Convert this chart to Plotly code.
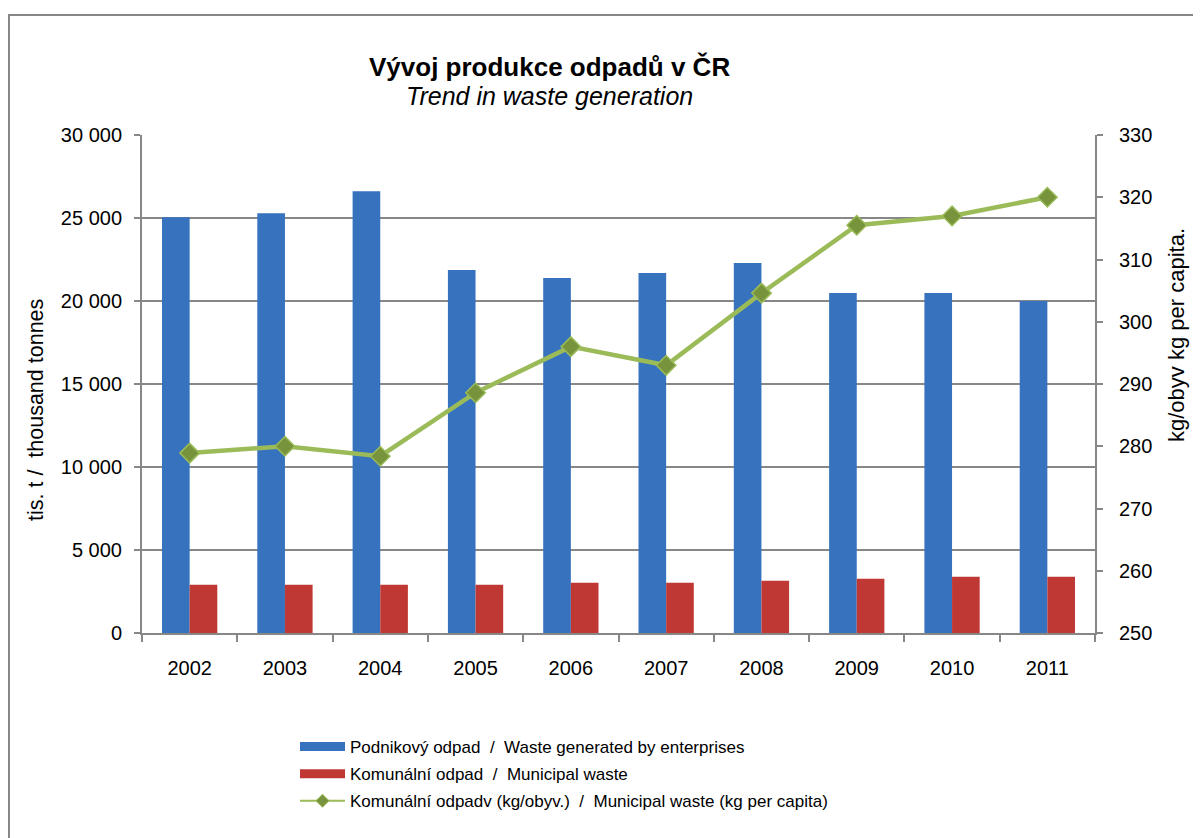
import plotly.graph_objects as go

years = ["2002", "2003", "2004", "2005", "2006", "2007", "2008", "2009", "2010", "2011"]
enterprise_waste = [25050, 25290, 26610, 21860, 21380, 21680, 22290, 20480, 20480, 20000]
municipal_waste = [2906, 2906, 2906, 2906, 3027, 3027, 3147, 3268, 3388, 3388]
municipal_per_capita = [278.9, 280.0, 278.4, 288.6, 296.0, 293.0, 304.6, 315.5, 317.0, 320.0]

name_ent = "Podnikový odpad  /  Waste generated by enterprises"
name_mun = "Komunální odpad  /  Municipal waste"
name_pc = "Komunální odpadv (kg/obyv.)  /  Municipal waste (kg per capita)"

BLUE = "#3672BD"
RED = "#BF3834"
GREEN = "#9BBB59"
GREEN_D = "#77933C"
GRID = "#878787"
FONT = "Liberation Sans, Arial, sans-serif"

# page has an 8px body margin; figure sized to fill the rest of the window
OFF = 8
W, H = 1201 - OFF, 838 - OFF
L, R, T, B = 142 - OFF, W - (1095 - OFF), 135 - OFF, H - (633 - OFF)
pw, ph = W - L - R, H - T - B

def px(x):
    return (x - OFF - L) / pw

def py(y):
    return (H - B - (y - OFF)) / ph

fig = go.Figure()
fig.add_trace(go.Bar(x=years, y=enterprise_waste, name=name_ent,
                     marker=dict(color=BLUE, line=dict(width=0)), showlegend=False))
fig.add_trace(go.Bar(x=years, y=municipal_waste, name=name_mun,
                     marker=dict(color=RED, line=dict(width=0)), showlegend=False))
fig.add_trace(go.Scatter(x=years, y=municipal_per_capita, name=name_pc, yaxis="y2", mode="lines+markers",
                         line=dict(color=GREEN, width=4.5),
                         marker=dict(symbol="diamond", size=15, color=GREEN_D, line=dict(color=GREEN, width=1.5)),
                         showlegend=False))
# legend entries
fig.add_trace(go.Scatter(x=[None], y=[None], name=name_ent, mode="lines", legendgroup="a",
                         line=dict(color=BLUE, width=9)))
fig.add_trace(go.Scatter(x=[None], y=[None], name=name_mun, mode="lines", legendgroup="b",
                         line=dict(color=RED, width=9)))
fig.add_trace(go.Scatter(x=[None], y=[None], name=name_pc, mode="lines+markers", legendgroup="c",
                         line=dict(color=GREEN, width=2),
                         marker=dict(symbol="diamond", size=10, color=GREEN_D, line=dict(color=GREEN, width=1))))

fig.update_layout(
    width=W, height=H,
    margin=dict(l=L, r=R, t=T, b=B, autoexpand=False),
    paper_bgcolor="white", plot_bgcolor="white",
    font=dict(family=FONT, size=20, color="black"),
    separators=", ",
    barmode="group", bargap=0.42, bargroupgap=0.0,
    xaxis=dict(type="category", range=[-0.5, len(years) - 0.5], showgrid=False, showline=True,
               linecolor=GRID, linewidth=2,
               ticks="outside", tickson="boundaries", ticklen=7, tickcolor=GRID, tickwidth=2,
               tickfont=dict(size=20), ticklabelstandoff=16),
    yaxis=dict(range=[0, 30000], dtick=5000, tickformat=",d", showgrid=True, gridcolor=GRID, gridwidth=2,
               showline=True, linecolor=GRID, linewidth=2, ticks="outside", ticklen=6, tickcolor=GRID,
               tickwidth=2, tickfont=dict(size=20), zeroline=False, ticklabelstandoff=8),
    yaxis2=dict(range=[250, 330], dtick=10, overlaying="y", side="right", showgrid=False,
                showline=True, linecolor=GRID, linewidth=2, ticks="outside", ticklen=6, tickcolor=GRID,
                tickwidth=2, tickfont=dict(size=20), zeroline=False, ticklabelstandoff=12),
    legend=dict(x=px(295), y=py(729), xanchor="left", yanchor="top", orientation="v",
                font=dict(size=17), itemwidth=45, tracegroupgap=2, bgcolor="rgba(0,0,0,0)"),
    annotations=[
        dict(text="<b>Vývoj produkce odpadů v ČR</b>", x=px(549), y=py(67), xref="paper", yref="paper",
             showarrow=False, font=dict(size=26), xanchor="center", yanchor="middle"),
        dict(text="<i>Trend in waste generation</i>", x=px(549), y=py(96), xref="paper", yref="paper",
             showarrow=False, font=dict(size=25), xanchor="center", yanchor="middle"),
        dict(text="tis. t /  thousand tonnes", x=px(36), y=py(410), xref="paper", yref="paper",
             showarrow=False, textangle=-90, font=dict(size=21.5), xanchor="center", yanchor="middle"),
        dict(text="kg/obyv kg per capita.", x=px(1176), y=py(335), xref="paper", yref="paper",
             showarrow=False, textangle=-90, font=dict(size=22), xanchor="center", yanchor="middle"),
    ],
    shapes=[
        dict(type="rect", xref="paper", yref="paper", x0=px(9), x1=px(1240), y0=py(880), y1=py(15),
             line=dict(color=GRID, width=2), fillcolor="rgba(0,0,0,0)", layer="below"),
    ],
)

fig.write_html("out.html")
